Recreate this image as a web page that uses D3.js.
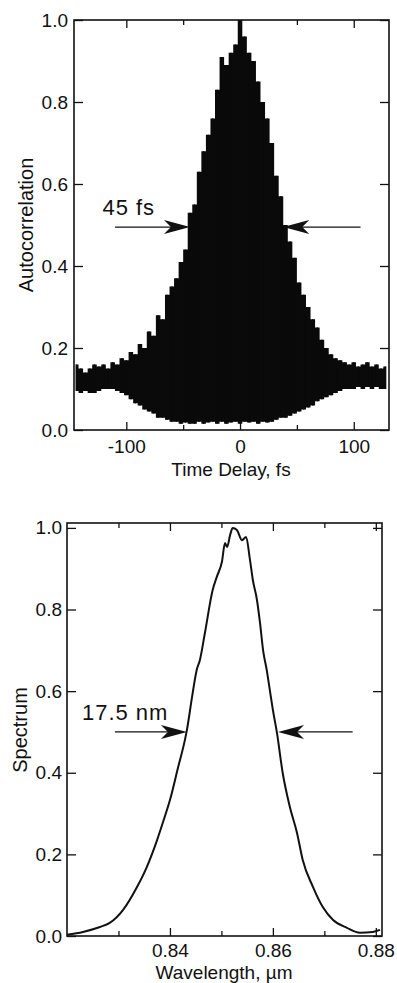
<!DOCTYPE html>
<html>
<head>
<meta charset="utf-8">
<script src="https://cdn.jsdelivr.net/npm/d3@7"></script>
<style>
  body { margin: 0; background: #fff; }
  text { font-family: "Liberation Sans", Arial, Helvetica, sans-serif; fill: #111; }
</style>
</head>
<body>
<div id="chart"></div>
<script>
// autocorrelation fringes: sampled delay (fs), peak and trough of the fringes
const delay = [-144, -140, -136, -132, -128, -124, -120, -116, -112, -108, -104, -100,
  -96, -92, -88, -84, -80, -76, -72, -68, -64, -60, -56, -52, -48, -44, -40, -36,
  -32, -28, -24, -20, -16, -12, -8, -4, 0, 4, 8, 12, 16, 20, 24, 28, 32, 36, 40,
  44, 48, 52, 56, 60, 64, 68, 72, 76, 80, 84, 88, 92, 96, 100, 104, 108, 112,
  116, 120, 124, 128];
const acUpper = [0.16, 0.15, 0.14, 0.15, 0.16, 0.155, 0.16, 0.15, 0.165, 0.16, 0.175, 0.17,
  0.19, 0.185, 0.21, 0.2, 0.24, 0.23, 0.28, 0.27, 0.33, 0.35, 0.37, 0.41, 0.44, 0.53, 0.55, 0.63,
  0.68, 0.72, 0.76, 0.83, 0.91, 0.89, 0.92, 0.94, 1.0, 0.96, 0.92, 0.9, 0.85, 0.8, 0.76, 0.7, 0.62, 0.57, 0.5,
  0.46, 0.42, 0.36, 0.33, 0.3, 0.27, 0.25, 0.22, 0.2, 0.185, 0.175, 0.17, 0.165, 0.16, 0.165, 0.155, 0.16, 0.165,
  0.155, 0.16, 0.15, 0.155];
const acLower = [0.095, 0.09, 0.095, 0.09, 0.09, 0.095, 0.1, 0.1, 0.1, 0.095, 0.09, 0.085,
  0.075, 0.065, 0.06, 0.05, 0.045, 0.04, 0.03, 0.03, 0.025, 0.02, 0.02, 0.015, 0.018, 0.015, 0.015, 0.02,
  0.015, 0.018, 0.02, 0.015, 0.02, 0.015, 0.018, 0.02, 0.015, 0.02, 0.018, 0.02, 0.015, 0.02, 0.018, 0.02, 0.025, 0.03, 0.03,
  0.035, 0.04, 0.045, 0.05, 0.055, 0.06, 0.07, 0.075, 0.08, 0.085, 0.09, 0.095, 0.1, 0.1, 0.1, 0.105, 0.1, 0.105,
  0.1, 0.105, 0.1, 0.1];

// spectrum
const wavelength = [0.8200, 0.8231, 0.8264, 0.8283, 0.8309, 0.8336, 0.8355, 0.8375, 0.8386, 0.8400,
  0.8416, 0.8429, 0.8433, 0.8443, 0.8452, 0.8458, 0.8468, 0.8483, 0.8491, 0.8501, 0.8507, 0.8511,
  0.8517, 0.8522, 0.8530, 0.8540, 0.8548, 0.8555, 0.8561, 0.8569, 0.8575, 0.8581, 0.8588, 0.8594,
  0.8600, 0.8608, 0.8619, 0.8633, 0.8647, 0.8658, 0.8678, 0.8697, 0.8717, 0.8744, 0.8769, 0.8794, 0.8808];
const spectrum = [0.003, 0.01, 0.022, 0.032, 0.064, 0.12, 0.169, 0.235, 0.277, 0.333,
  0.414, 0.48, 0.505, 0.586, 0.652, 0.675, 0.743, 0.848, 0.88, 0.917, 0.963, 0.953,
  0.983, 1.0, 0.995, 0.97, 0.978, 0.926, 0.873, 0.824, 0.767, 0.7, 0.652, 0.603,
  0.554, 0.497, 0.4, 0.316, 0.252, 0.186, 0.12, 0.071, 0.039, 0.02, 0.008, 0.01, 0.015];

const acTicks = [-100, 0, 100];
const acMinorTicks = [-50, 50];
const specTicks = [0.84, 0.86, 0.88];
const specMinorTicks = [0.83, 0.85, 0.87];
const yTicks = [0, 0.2, 0.4, 0.6, 0.8, 1.0];

// FWHM markers: [tail, tip] on each side, height, label
const acMarker = { left: [-110, -44], right: [106, 38], level: 0.495, label: "45 fs", labelAt: [-121, 0.524] };
const specMarker = { left: [0.8293, 0.8433], right: [0.8755, 0.8610], level: 0.5, label: "17.5 nm", labelAt: [0.8229, 0.529] };

const width = 397, height = 983;

const svg = d3.select("#chart")
  .append("svg")
  .attr("width", width)
  .attr("height", height);

function drawAxes(g, x, y, major, minor, xFmt, yPad, xPad) {
  g.append("g")
    .attr("transform", `translate(0,${y.range()[0]})`)
    .call(d3.axisBottom(x).tickValues(major).tickSizeInner(-8).tickSizeOuter(0).tickPadding(xPad).tickFormat(xFmt))
    .call(a => a.select(".domain").remove());
  g.append("g")
    .attr("transform", `translate(0,${y.range()[0]})`)
    .call(d3.axisBottom(x).tickValues(minor).tickSizeInner(-5).tickSizeOuter(0).tickFormat(""))
    .call(a => a.select(".domain").remove());
  g.append("g")
    .attr("transform", `translate(0,${y.range()[1]})`)
    .call(d3.axisTop(x).tickValues(major).tickSizeInner(-8).tickSizeOuter(0).tickFormat(""))
    .call(a => a.select(".domain").remove());
  g.append("g")
    .attr("transform", `translate(0,${y.range()[1]})`)
    .call(d3.axisTop(x).tickValues(minor).tickSizeInner(-5).tickSizeOuter(0).tickFormat(""))
    .call(a => a.select(".domain").remove());
  g.append("g")
    .attr("transform", `translate(${x.range()[0]},0)`)
    .call(d3.axisLeft(y).tickValues(yTicks).tickSizeInner(-9).tickSizeOuter(0).tickPadding(yPad).tickFormat(d3.format(".1f")))
    .call(a => a.select(".domain").remove());
  g.append("g")
    .attr("transform", `translate(${x.range()[1]},0)`)
    .call(d3.axisRight(y).tickValues(yTicks).tickSizeInner(-9).tickSizeOuter(0).tickFormat(""))
    .call(a => a.select(".domain").remove());

  g.selectAll(".tick line").attr("stroke", "#111").attr("stroke-width", 1.3);
  g.selectAll(".tick text").style("font-size", "19px").attr("fill", "#111");

  // frame
  g.append("rect")
    .attr("x", x.range()[0])
    .attr("y", y.range()[1])
    .attr("width", x.range()[1] - x.range()[0])
    .attr("height", y.range()[0] - y.range()[1])
    .attr("fill", "none")
    .attr("stroke", "#111")
    .attr("stroke-width", 1.6);
}

function drawArrow(g, x, y, side, level) {
  let tail = x(side[0]), tip = x(side[1]), yy = y(level);
  let dir = tip > tail ? 1 : -1;
  g.append("line")
    .attr("x1", tail).attr("x2", tip - dir * 16)
    .attr("y1", yy).attr("y2", yy)
    .attr("stroke", "#111").attr("stroke-width", 1.2);
  g.append("path")
    .attr("d", `M${tip},${yy} L${tip - dir * 26},${yy - 7} L${tip - dir * 19},${yy} L${tip - dir * 26},${yy + 7} Z`)
    .attr("fill", "#111");
}

// ---- Autocorrelation panel
let x1 = d3.scaleLinear().domain([-146, 131]).range([74, 389]);
let y1 = d3.scaleLinear().domain([0, 1]).range([430, 20]);
let g1 = svg.append("g");

let acData = delay.map((t, i) => ({ t: t, hi: acUpper[i], lo: acLower[i] }));

g1.append("path")
  .datum(acData)
  .attr("d", d3.area().curve(d3.curveStep).x(d => x1(d.t)).y0(d => y1(d.lo)).y1(d => y1(d.hi)))
  .attr("fill", "#0a0a0a");

g1.selectAll(".fringe")
  .data(acData)
  .enter()
  .append("line")
  .attr("class", "fringe")
  .attr("x1", d => x1(d.t)).attr("x2", d => x1(d.t))
  .attr("y1", d => y1(d.lo)).attr("y2", d => y1(d.hi))
  .attr("stroke", "#0a0a0a")
  .attr("stroke-width", 1.5);

drawAxes(g1, x1, y1, acTicks, acMinorTicks, d => String(d), 6, 10);

drawArrow(g1, x1, y1, acMarker.left, acMarker.level);
drawArrow(g1, x1, y1, acMarker.right, acMarker.level);
g1.append("text")
  .attr("x", x1(acMarker.labelAt[0]))
  .attr("y", y1(acMarker.labelAt[1]))
  .style("font-size", "22px")
  .style("letter-spacing", "1px")
  .text(acMarker.label);

g1.append("text")
  .attr("x", 231).attr("y", 476)
  .attr("text-anchor", "middle")
  .style("font-size", "19px")
  .text("Time Delay, fs");

g1.append("text")
  .attr("transform", "translate(33,225) rotate(-90)")
  .attr("text-anchor", "middle")
  .style("font-size", "20px")
  .text("Autocorrelation");

// ---- Spectrum panel
let x2 = d3.scaleLinear().domain([0.82, 0.8812]).range([67, 382]);
let y2 = d3.scaleLinear().domain([0, 1.012]).range([936, 523]);
let g2 = svg.append("g");

g2.append("path")
  .datum(wavelength.map((w, i) => [w, spectrum[i]]))
  .attr("d", d3.line().curve(d3.curveMonotoneX).x(d => x2(d[0])).y(d => y2(d[1])))
  .attr("fill", "none")
  .attr("stroke", "#111")
  .attr("stroke-width", 2);

drawAxes(g2, x2, y2, specTicks, specMinorTicks, d3.format(".2f"), 5, 8);

drawArrow(g2, x2, y2, specMarker.left, specMarker.level);
drawArrow(g2, x2, y2, specMarker.right, specMarker.level);
g2.append("text")
  .attr("x", x2(specMarker.labelAt[0]))
  .attr("y", y2(specMarker.labelAt[1]))
  .style("font-size", "22px")
  .style("letter-spacing", "1px")
  .text(specMarker.label);

g2.append("text")
  .attr("x", 224).attr("y", 979)
  .attr("text-anchor", "middle")
  .style("font-size", "19px")
  .text("Wavelength, µm");

g2.append("text")
  .attr("transform", "translate(27,730) rotate(-90)")
  .attr("text-anchor", "middle")
  .style("font-size", "20px")
  .text("Spectrum");
</script>
</body>
</html>
